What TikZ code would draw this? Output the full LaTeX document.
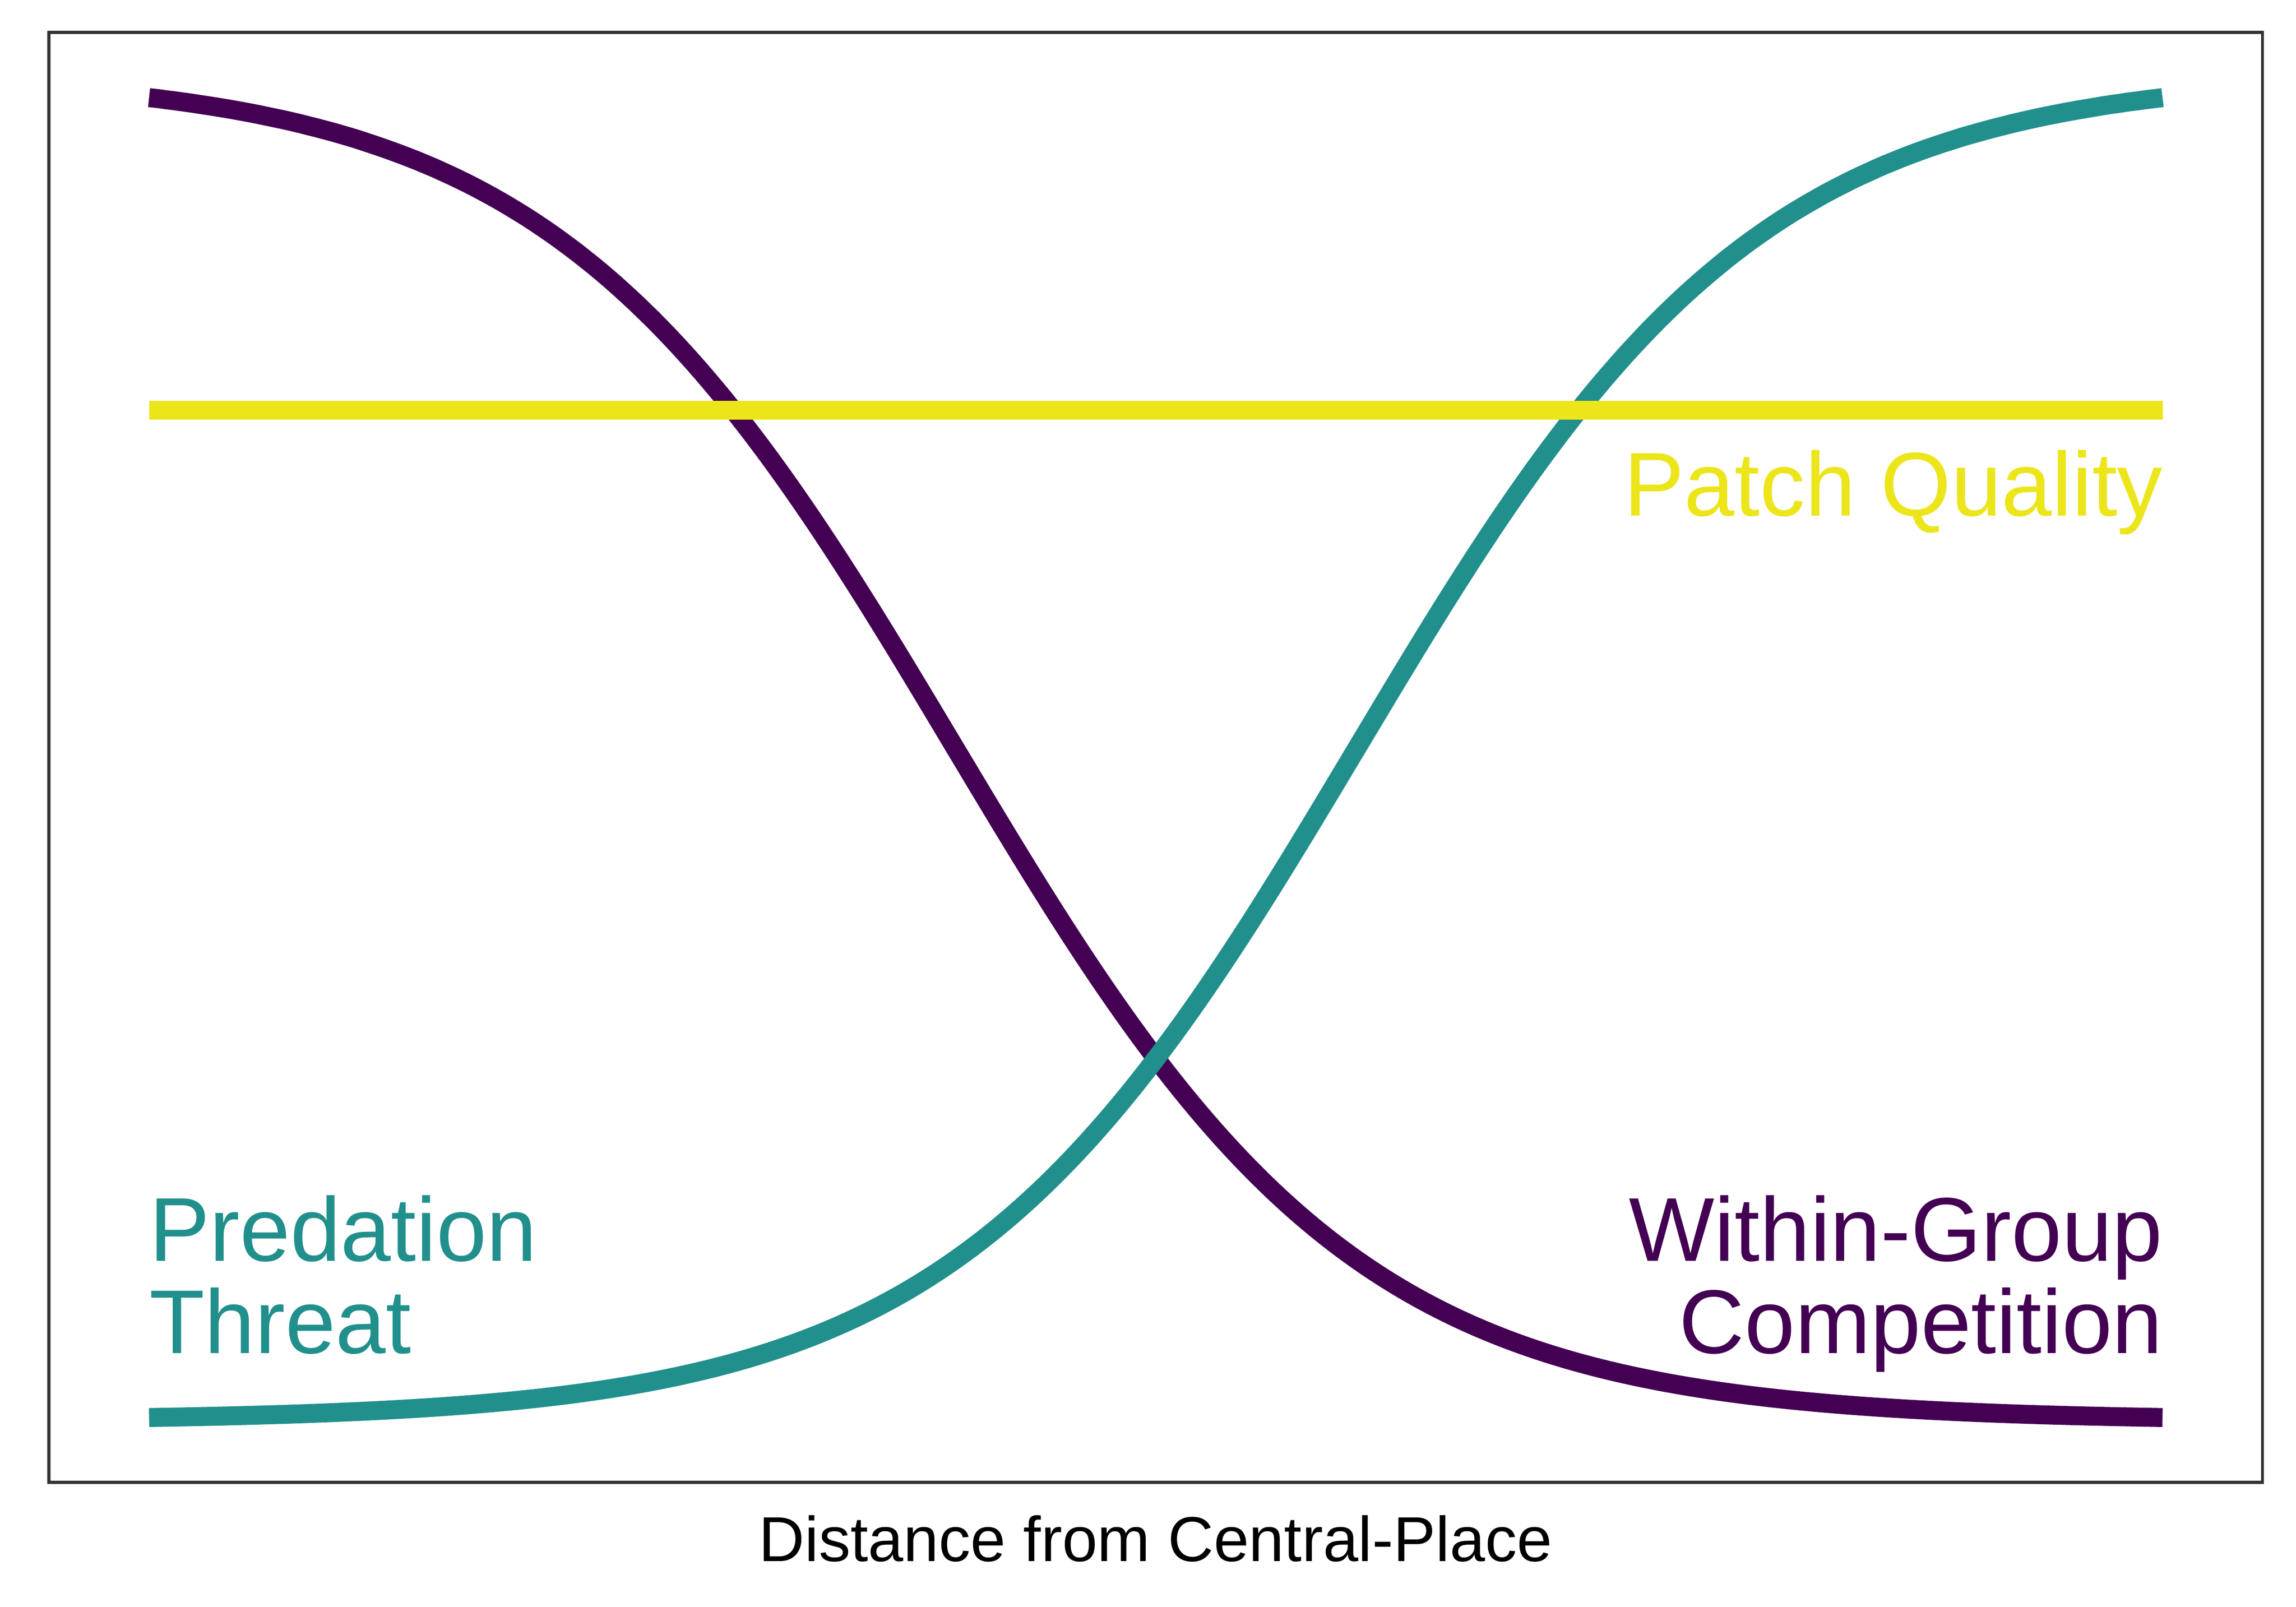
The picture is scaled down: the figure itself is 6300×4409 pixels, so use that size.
\documentclass[tikz,border=0pt]{standalone}
\usepackage{fontspec}
\setmainfont{Liberation Sans}
\definecolor{vpurple}{HTML}{440154}
\definecolor{vteal}{HTML}{21908D}
\definecolor{vyellow}{RGB}{235,229,26}
\definecolor{framegray}{HTML}{333333}
\tikzset{
  curve/.style={line width=0.52cm, line cap=butt, line join=round},
  biglabel/.style={inner sep=0pt, font=\fontsize{70.7}{72}\selectfont},
  axlabel/.style={inner sep=0pt, font=\fontsize{49.5}{52}\selectfont, text=black}
}
\begin{document}
\begin{tikzpicture}[x=0.01cm, y=-0.01cm]
  \useasboundingbox (0,0) rectangle (6300,4409);
  \fill[white] (0,0) rectangle (6300,4409);
  % curves
  \draw[curve, vpurple, domain=0:10, samples=241, variable=\t]
    plot ({409+552.6*\t}, {3899.14-3697.65/(1+exp(\t-4))});
  \draw[curve, vteal, domain=0:10, samples=241, variable=\t]
    plot ({409+552.6*\t}, {3899.14-3697.65/(1+exp(6-\t))});
  \coordinate (pqL) at (409,1126);
  \coordinate (pqR) at (5935,1126);
  \draw[curve, vyellow] (pqL) -- (pqR);
  % frame
  \draw[framegray, line width=0.08cm] (134,89) rectangle (6208,4068);
  % labels
  \node[biglabel, text=vyellow, anchor=base east] (pq) at (5935,1415) {Patch Quality};
  \node[biglabel, text=vpurple, anchor=base east] (wg1) at (5935,3461) {Within-Group};
  \node[biglabel, text=vpurple, anchor=base east] (wg2) at (5935,3714) {Competition};
  \node[biglabel, text=vteal, anchor=base west] (pt1) at (409,3461) {Predation};
  \node[biglabel, text=vteal, anchor=base west] (pt2) at (409,3714) {Threat};
  \node[axlabel, anchor=base] (xl) at (3171,4285) {Distance from Central-Place};
\end{tikzpicture}
\end{document}
